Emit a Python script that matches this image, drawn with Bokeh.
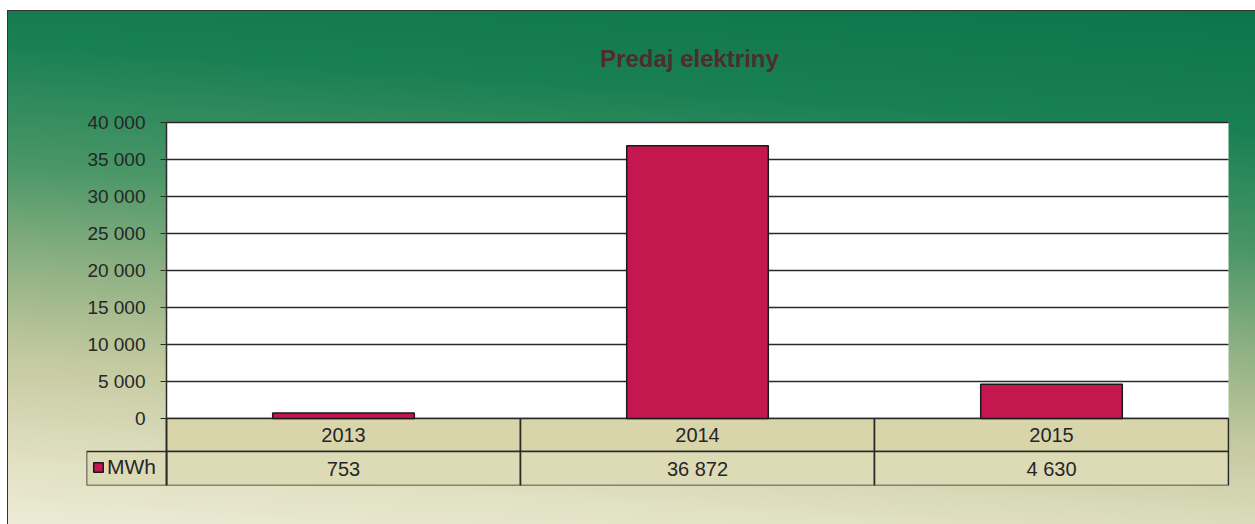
from bokeh.plotting import figure
from bokeh.models import Range1d, FixedTicker, Legend, LegendItem, Label
from bokeh.core.properties import value
from bokeh.embed import file_html
from bokeh.resources import INLINE

# ---------------- data ----------------
years = ["2013", "2014", "2015"]
mwh = [753, 36872, 4630]
value_labels = ["753", "36 872", "4 630"]
y_ticks = [0, 5000, 10000, 15000, 20000, 25000, 30000, 35000, 40000]
y_tick_labels = ["0", "5 000", "10 000", "15 000", "20 000", "25 000",
                 "30 000", "35 000", "40 000"]
series_name = "MWh"
title_text = "Predaj elektriny"

# ---------------- layout / style ----------------
W, H = 1255, 514       # figure starts 10px below the page top
CAT_PX = 354           # pixel width of one category column
LEG_PX = 80            # pixel width of the legend cell of the data table
PLOT_PX = 296          # pixel height of the value area
VALUE_TOP_PX = 122     # page y of the top of the value area
TITLE_PX = (689, 58)   # page position of the title centre
B_LEFT, B_TOP = 86, 20
TOP_PAD_PX = VALUE_TOP_PX - 10 - B_TOP
ROW1_PX, ROW2_PX = 33, 34

n = len(years)
xs = [i + 0.5 for i in range(n)]          # category centres
L = LEG_PX / CAT_PX
Y_MAX = y_ticks[-1]
upp = Y_MAX / PLOT_PX                      # data units per pixel
y_start = -(ROW1_PX + ROW2_PX) * upp
row1_c = -ROW1_PX * upp / 2
row2_c = -(ROW1_PX + ROW2_PX / 2) * upp
frame_w = n * CAT_PX + LEG_PX + 1
frame_h = PLOT_PX + ROW1_PX + ROW2_PX + TOP_PAD_PX
B_RIGHT = W - B_LEFT - frame_w
B_BOTTOM = H - B_TOP - frame_h

FONT = "Liberation Sans"
TXT = "#262626"
LINE = "#2a2a2a"
BAR = "#c4174f"
TAN1 = "#d8d5ab"
TAN2 = "#dddbb6"

p = figure(width=W, height=H,
           x_range=Range1d(-L, n + 1 / CAT_PX),
           y_range=Range1d(y_start, Y_MAX + TOP_PAD_PX * upp),
           x_axis_location=None,
           output_backend="svg", toolbar_location=None,
           min_border_left=B_LEFT, min_border_right=B_RIGHT,
           min_border_top=B_TOP, min_border_bottom=B_BOTTOM)
p.title = None
p.margin = (10, 0, 0, 0)
p.styles = {
    "background": "linear-gradient(to right, #ffffff 0 7px, #333333 7px 8px, transparent 8px), "
                  "linear-gradient(to bottom, #333333 0 1px, transparent 1px), "
                  "linear-gradient(184deg, #0e744a 0%, #198053 20%, #4a9667 40%, "
                  "#8cb082 56%, #c4c99f 72%, #dfdfc0 88%, #ecebd6 100%)",
}
p.border_fill_color = None
p.background_fill_color = None
p.outline_line_color = None

# title (drawn as a label in the upper, empty part of the frame)
p.add_layout(Label(
    x=(TITLE_PX[0] - B_LEFT - LEG_PX) / CAT_PX,
    y=Y_MAX + (VALUE_TOP_PX - TITLE_PX[1]) * upp,
    text=title_text, text_align="center", text_baseline="middle",
    text_font=FONT, text_font_size="24px", text_font_style="bold",
    text_color="#4e2c30"))

# axis (at the left edge of the value area)
p.xgrid.visible = False
p.ygrid.visible = False
ax = p.yaxis[0]
ax.fixed_location = 0
ax.bounds = (y_start, Y_MAX)
ax.ticker = FixedTicker(ticks=y_ticks)
ax.major_label_overrides = dict(zip(y_ticks, y_tick_labels))
ax.major_label_text_font = FONT
ax.major_label_text_font_size = "19px"
ax.major_label_text_color = TXT
ax.major_label_standoff = 15
ax.major_tick_in = 0
ax.major_tick_out = 6
ax.major_tick_line_color = LINE
ax.minor_tick_line_color = None
ax.axis_line_color = LINE
ax.axis_line_width = 1.5

# white value area and its grid lines
p.quad(left=0, right=n, bottom=0, top=Y_MAX, fill_color="white", line_color=None)
p.segment(x0=[0] * len(y_ticks), x1=[n] * len(y_ticks), y0=y_ticks, y1=y_ticks,
          line_color=LINE, line_width=1.3)

# data table cells
p.rect(x=xs, y=[row1_c] * n, width=1, height=ROW1_PX * upp,
       fill_color=TAN1, line_color=LINE, line_width=1.6)
p.rect(x=xs, y=[row2_c] * n, width=1, height=ROW2_PX * upp,
       fill_color=TAN2, line_color=LINE, line_width=1.6)
p.rect(x=[-L / 2], y=[row2_c], width=L, height=ROW2_PX * upp,
       fill_color=TAN2, line_color=LINE, line_width=1.6)
p.text(x=xs, y=[row1_c] * n, text=years,
       text_align="center", text_baseline="middle",
       text_font=value(FONT), text_font_size="20px", text_color=TXT)
p.text(x=xs, y=[row2_c] * n, text=value_labels,
       text_align="center", text_baseline="middle",
       text_font=value(FONT), text_font_size="20px", text_color=TXT)

# bars
bars = p.vbar(x=xs, top=mwh, width=0.4, fill_color=BAR,
              line_color="#1a1a1a", line_width=1.5)

# legend key inside the legend cell
legend = Legend(items=[LegendItem(label=series_name, renderers=[bars])],
                location=(6, 6), orientation="vertical",
                padding=0, margin=0, spacing=0,
                glyph_width=12, glyph_height=12, label_standoff=3,
                label_height=20,
                label_text_font=FONT, label_text_font_size="21px",
                label_text_color=TXT,
                background_fill_alpha=0, border_line_color=None)
p.add_layout(legend)

open("out.html", "w").write(file_html(p, INLINE))
